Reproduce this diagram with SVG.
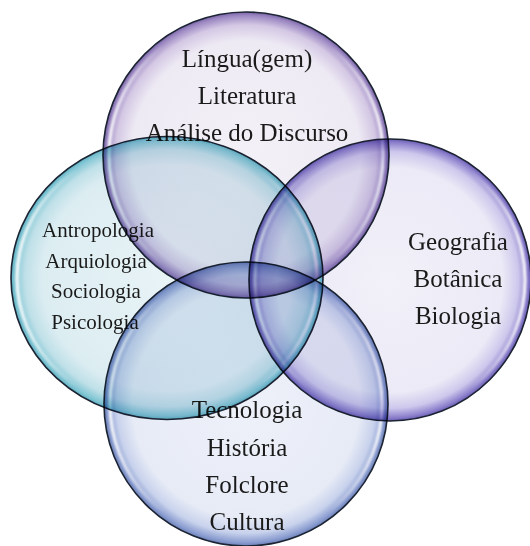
<svg xmlns="http://www.w3.org/2000/svg" width="530" height="546" viewBox="0 0 530 546">
<defs>
<radialGradient id="gTop" cx="0.5" cy="0.5" r="0.5">
<stop offset="0" stop-color="#f3f1f7"/>
<stop offset="0.8" stop-color="#eeeaf4"/>
<stop offset="0.91" stop-color="#d4c8e4"/>
<stop offset="0.975" stop-color="#9c88c2"/>
<stop offset="1" stop-color="#7a64a8"/>
</radialGradient>
<radialGradient id="gRight" cx="0.5" cy="0.5" r="0.5">
<stop offset="0" stop-color="#f2f1f9"/>
<stop offset="0.8" stop-color="#ebeaf6"/>
<stop offset="0.91" stop-color="#cdc8ec"/>
<stop offset="0.975" stop-color="#8c80cc"/>
<stop offset="1" stop-color="#6a5cb4"/>
</radialGradient>
<radialGradient id="gLeft" cx="0.5" cy="0.5" r="0.5">
<stop offset="0" stop-color="#e8f3f6"/>
<stop offset="0.8" stop-color="#dcedf2"/>
<stop offset="0.91" stop-color="#bfe0e8"/>
<stop offset="0.975" stop-color="#82c6d4"/>
<stop offset="1" stop-color="#5eb0c2"/>
</radialGradient>
<radialGradient id="gBottom" cx="0.5" cy="0.5" r="0.5">
<stop offset="0" stop-color="#eef1f9"/>
<stop offset="0.8" stop-color="#e7ebf6"/>
<stop offset="0.91" stop-color="#c8d2ec"/>
<stop offset="0.975" stop-color="#8a9cd0"/>
<stop offset="1" stop-color="#6a80b8"/>
</radialGradient>
<linearGradient id="gHi" x1="0" y1="0" x2="1" y2="0">
<stop offset="0" stop-color="#ffffff" stop-opacity="0.95"/>
<stop offset="0.2" stop-color="#ffffff" stop-opacity="0"/>
<stop offset="0.8" stop-color="#ffffff" stop-opacity="0"/>
<stop offset="1" stop-color="#ffffff" stop-opacity="0.95"/>
</linearGradient>
<filter id="blur" x="-10%" y="-10%" width="120%" height="120%">
<feGaussianBlur stdDeviation="1.2"/>
</filter>
</defs>
<style>
.node { mix-blend-mode: multiply; }
.rim { stroke: #1c2433; stroke-width: 1.6; }
.hi { fill: none; stroke: url(#gHi); stroke-width: 3; filter: url(#blur); }
.lbl { font-family: 'Liberation Serif', 'Times New Roman', serif; fill: #1a1a1a; text-anchor: middle; }
.big { font-size: 25px; }
.small { font-size: 21px; }
</style>
<rect width="530" height="546" fill="#ffffff"/>

<g id="node-top" class="node">
<circle cx="246" cy="155" r="143" fill="url(#gTop)" class="rim"/>
<circle cx="246" cy="155" r="137" class="hi"/>
<text class="lbl big" font-family="Liberation Serif, serif" x="247" y="67">Língua(gem)</text>
<text class="lbl big" font-family="Liberation Serif, serif" x="247" y="104">Literatura</text>
<text class="lbl big" font-family="Liberation Serif, serif" x="247" y="141">Análise do Discurso</text>
</g>

<g id="node-right" class="node">
<circle cx="390" cy="280" r="141" fill="url(#gRight)" class="rim"/>
<circle cx="390" cy="280" r="135" class="hi"/>
<text class="lbl big" font-family="Liberation Serif, serif" x="458" y="250">Geografia</text>
<text class="lbl big" font-family="Liberation Serif, serif" x="458" y="287">Botânica</text>
<text class="lbl big" font-family="Liberation Serif, serif" x="458" y="324">Biologia</text>
</g>

<g id="node-bottom" class="node">
<circle cx="246" cy="404" r="142" fill="url(#gBottom)" class="rim"/>
<circle cx="246" cy="404" r="136" class="hi"/>
<text class="lbl big" font-family="Liberation Serif, serif" x="247" y="418">Tecnologia</text>
<text class="lbl big" font-family="Liberation Serif, serif" x="247" y="456">História</text>
<text class="lbl big" font-family="Liberation Serif, serif" x="247" y="493">Folclore</text>
<text class="lbl big" font-family="Liberation Serif, serif" x="247" y="530">Cultura</text>
</g>

<g id="node-left" class="node">
<ellipse cx="167" cy="278" rx="156" ry="141.5" fill="url(#gLeft)" class="rim"/>
<ellipse cx="167" cy="278" rx="150" ry="135.5" class="hi"/>
<text class="lbl small" font-family="Liberation Serif, serif" x="98" y="237">Antropologia</text>
<text class="lbl small" font-family="Liberation Serif, serif" x="96" y="268">Arquiologia</text>
<text class="lbl small" font-family="Liberation Serif, serif" x="96" y="298">Sociologia</text>
<text class="lbl small" font-family="Liberation Serif, serif" x="95" y="329">Psicologia</text>
</g>
</svg>
